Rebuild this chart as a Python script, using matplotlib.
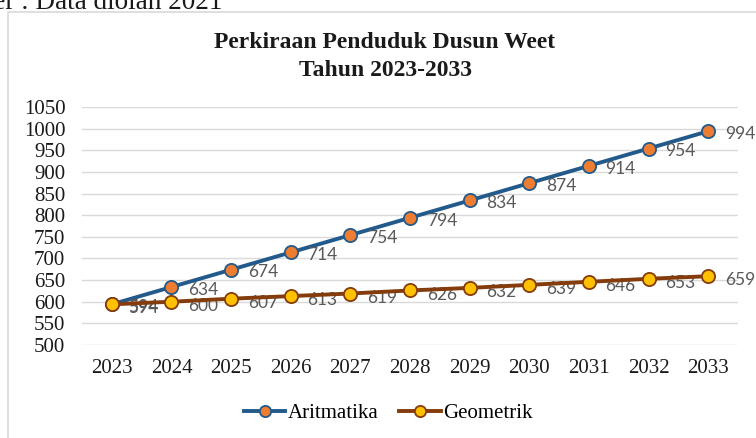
import numpy as np
import matplotlib.pyplot as plt
from matplotlib.patches import Rectangle

# data
years = ['2023', '2024', '2025', '2026', '2027', '2028', '2029', '2030', '2031', '2032', '2033']
aritmatika = [594, 634, 674, 714, 754, 794, 834, 874, 914, 954, 994]
geometrik = [594, 600, 607, 613, 619, 626, 632, 639, 646, 653, 659]
y_ticks = [500, 550, 600, 650, 700, 750, 800, 850, 900, 950, 1000, 1050]

serif = 'Liberation Serif'
W, H = 756, 438

fig = plt.figure(figsize=(W / 100, H / 100), dpi=100)
ax = fig.add_axes([82 / W, 1 - 345 / H, 656 / W, 238 / H])

x = np.arange(len(years))
ax.plot(x, aritmatika, color='#235A8C', lw=2.8, marker='o', ms=9.5,
        mfc='#ED7D31', mec='#235A8C', mew=1.3, label='Aritmatika', zorder=3)
ax.plot(x, geometrik, color='#843C0C', lw=2.8, marker='o', ms=9.5,
        mfc='#FFC000', mec='#843C0C', mew=1.3, label='Geometrik', zorder=4)

# data labels, right of points
for xi, v in zip(x, aritmatika):
    ax.annotate(str(v), (xi, v), xytext=(12, -2), textcoords='offset points',
                ha='left', va='center', fontsize=12.5, color='#595959', family='Lato')
for xi, v in zip(x, geometrik):
    ax.annotate(str(v), (xi, v), xytext=(12, -3), textcoords='offset points',
                ha='left', va='center', fontsize=12.5, color='#595959', family='Lato')

ax.set_xlim(-0.5, len(years) - 0.5)
ax.set_ylim(500, 1050)
ax.set_yticks(y_ticks)
ax.set_xticks(x)
ax.set_xticklabels(years)
for lbl in ax.get_xticklabels() + ax.get_yticklabels():
    lbl.set_family(serif)
    lbl.set_fontsize(15)
    lbl.set_color('#1a1a1a')
ax.tick_params(length=0, pad=10)
ax.tick_params(axis='y', pad=12)
ax.grid(axis='y', color='#D9D9D9', lw=1)
ax.set_axisbelow(True)
for s in ax.spines.values():
    s.set_visible(False)

fig.text(385 / W, 1 - 43 / H, 'Perkiraan Penduduk Dusun Weet', ha='center', va='center',
         fontsize=17, fontweight='bold', family=serif, color='#1a1a1a')
fig.text(385 / W, 1 - 70 / H, 'Tahun 2023-2033', ha='center', va='center',
         fontsize=17, fontweight='bold', family=serif, color='#1a1a1a')

leg = fig.legend(loc='center', bbox_to_anchor=(388 / W, 1 - 413 / H), ncol=2, frameon=False,
                 prop={'family': serif, 'size': 15}, handlelength=2.0, handletextpad=0.1,
                 columnspacing=1.0, markerscale=0.85)

# chart border and clipped source note
fig.patches.append(Rectangle((8 / W, -0.1), 1.0, 1 - 12 / H + 0.1, transform=fig.transFigure,
                             fill=False, ec='#D9D9D9', lw=1.2))
fig.text(222 / W, 1 - 9 / H, 'Sumber : Data diolah 2021', ha='right', va='baseline',
         fontsize=19.5, family=serif, color='#1a1a1a')

fig.savefig('out.png', dpi=100)
